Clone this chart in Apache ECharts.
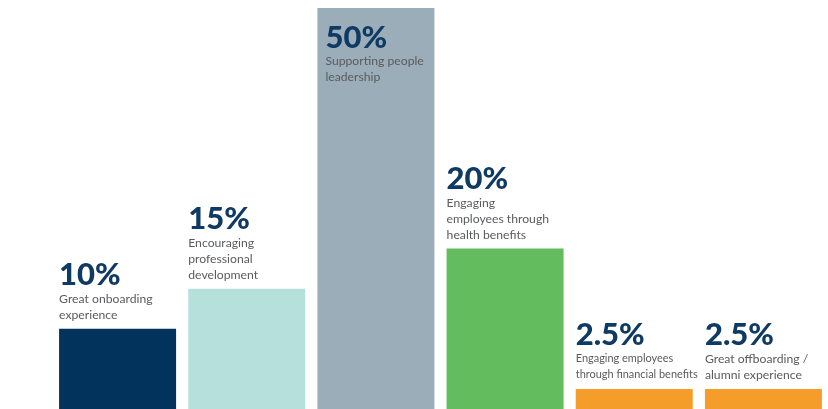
<!DOCTYPE html>
<html>
<head>
<meta charset="utf-8">
<script src="https://cdn.jsdelivr.net/npm/echarts@6/dist/echarts.min.js"></script>
<style>
  html, body { margin: 0; padding: 0; background: #ffffff; }
  #chart { width: 828px; height: 409px; }
</style>
</head>
<body>
<div id="chart"></div>
<script>
// Share of focus areas, in percent
const categories = [
  'Great onboarding\nexperience',
  'Encouraging\nprofessional\ndevelopment',
  'Supporting people\nleadership',
  'Engaging\nemployees through\nhealth benefits',
  'Engaging employees\nthrough financial benefits',
  'Great offboarding /\nalumni experience'
];
const values = [10, 15, 50, 20, 2.5, 2.5];
const barColors = ['#01335c', '#b6e0dc', '#9badb8', '#63bd5f', '#f49d2b', '#f49d2b'];

const chart = echarts.init(document.getElementById('chart'), null, { renderer: 'canvas' });

// Description text shrinks a little when a line would run into the next column
const BASE_DESC_SIZE = 12.2;
const MAX_DESC_WIDTH = 122;
const measureCtx = document.createElement('canvas').getContext('2d');
function descSize(text) {
  let size = BASE_DESC_SIZE;
  measureCtx.font = size + 'px Lato';
  const widest = Math.max(...text.split('\n').map(l => measureCtx.measureText(l).width));
  if (widest > MAX_DESC_WIDTH) size = size * MAX_DESC_WIDTH / widest;
  return size;
}

const data = values.map((v, i) => {
  const inside = v === Math.max(...values);
  return {
    value: v,
    itemStyle: { color: barColors[i] },
    label: {
      show: true,
      formatter: () => '{p|' + v + '%}\n{d|' + categories[i].split('\n').join('}\n{d|') + '}',
      rich: {
        p: { fontFamily: 'Lato', fontWeight: 900, fontSize: 31, color: '#0f3a64', lineHeight: 31 },
        d: { fontFamily: 'Lato', fontSize: descSize(categories[i]), color: '#5a5b5e', lineHeight: 16 }
      },
      align: 'left',
      verticalAlign: inside ? 'top' : 'bottom',
      position: inside ? [8, 14] : [0, -6]
    }
  };
});

chart.setOption({
  animation: false,
  grid: { left: 53, right: -1, top: 8, bottom: 0 },
  xAxis: {
    type: 'category',
    data: categories,
    show: false
  },
  yAxis: {
    type: 'value',
    min: 0,
    max: 50,
    show: false
  },
  series: [{
    type: 'bar',
    barWidth: 117,
    data: data
  }]
});
</script>
</body>
</html>
